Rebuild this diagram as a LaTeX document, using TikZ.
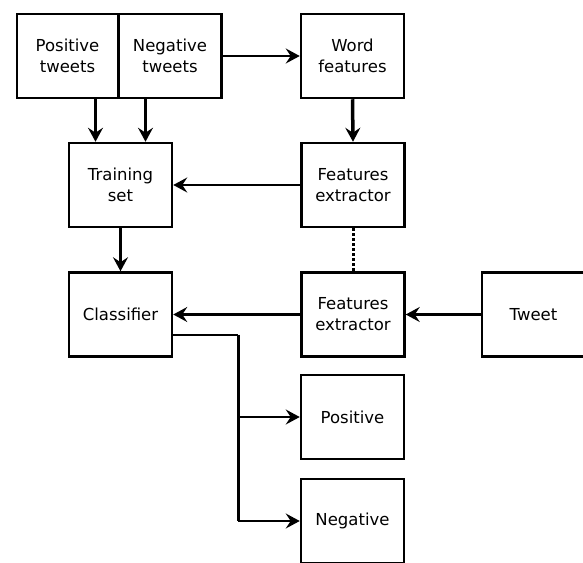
\documentclass[tikz,border=0pt]{standalone}
\usepackage{fontspec}
\setmainfont{DejaVu Sans}
\usepackage{tikz}
\usetikzlibrary{arrows.meta}
\usetikzlibrary{positioning}

\tikzset{
  block/.style={draw, line width=2.5pt, minimum width=103pt, minimum height=84pt,
    align=center, inner sep=0pt, font=\fontsize{16.5}{21}\selectfont},
  thinarrow/.style={line width=2pt, -{Stealth[length=14pt,width=15pt,inset=5pt]}},
  thickarrow/.style={line width=3.5pt, -{Stealth[length=14pt,width=15pt,inset=5pt]}},
}

\begin{document}
\begin{tikzpicture}[x=1pt, y=-1pt]
    \useasboundingbox (0,0) rectangle (583,562);
    % training data
    \node[block, minimum width=101pt] (postweets) at (67.5,56) {Positive\\tweets};
    \node[block] (negtweets) at (170,56) {Negative\\tweets};
    \node[block] (wordfeat) at (352.5,56) {Word\\features};
    \node[block] (trainset) at (120.5,185) {Training\\set};
    \node[block] (extract1) at (353,185) {Features\\extractor};
    % classification
    \node[block] (classifier) at (120.5,314.5) {Classifier};
    \node[block] (extract2) at (353,314.5) {Features\\extractor};
    \node[block] (tweet) at (533.5,314.5) {Tweet};
    \node[block] (posout) at (352.5,417) {Positive};
    \node[block] (negout) at (352.5,521) {Negative};
    \coordinate (split) at ([xshift=65pt,yshift=-20pt]classifier.east);

    \draw[thickarrow] ([xshift=-25pt]trainset.north |- postweets.south) -- ([xshift=-25pt]trainset.north);
    \draw[thickarrow] ([xshift=25pt]trainset.north |- negtweets.south) -- ([xshift=25pt]trainset.north);
    \draw[thinarrow] (negtweets.east) -- (wordfeat.west);
    \draw[thickarrow] (wordfeat.south) -- (extract1.north);
    \draw[thinarrow] (extract1.west) -- (trainset.east);
    \draw[thinarrow, line width=2.5pt] (trainset.south) -- (classifier.north);
    \draw[line width=3pt, dotted] (extract1.south) -- (extract2.north);
    \draw[thickarrow] (extract2.west) -- (classifier.east);
    \draw[thickarrow] (tweet.west) -- (extract2.east);
    \draw[line width=2pt] ([yshift=-20pt]classifier.east) -- (split);
    \draw[line width=3.5pt] (split) -- (split |- negout.west);
    \draw[thinarrow] (split |- posout.west) -- (posout.west);
    \draw[thinarrow] (split |- negout.west) -- (negout.west);
  \end{tikzpicture}
\end{document}
